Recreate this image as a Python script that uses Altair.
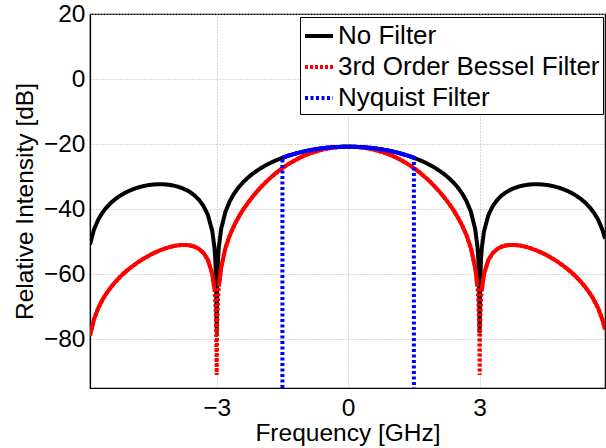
import altair as alt
import pandas as pd
import numpy as np

# ---- data ----
freq = [-5.89, -5.8, -5.7, -5.6, -5.5, -5.4, -5.3, -5.2, -5.1, -5.0,
        -4.9, -4.8, -4.7, -4.6, -4.5, -4.4, -4.3, -4.2, -4.1, -4.0,
        -3.9, -3.8, -3.7, -3.6, -3.5, -3.4, -3.3, -3.2, -3.1, -3.05,
        -3.03, -3.01, -3.0, -2.99, -2.97, -2.95, -2.9, -2.8, -2.7, -2.6,
        -2.5, -2.4, -2.3, -2.2, -2.1, -2.0, -1.9, -1.8, -1.7, -1.6,
        -1.5, -1.4, -1.3, -1.2, -1.1, -1.0, -0.9, -0.8, -0.7, -0.6,
        -0.5, -0.4, -0.3, -0.2, -0.1, 0.0, 0.1, 0.2, 0.3, 0.4,
        0.5, 0.6, 0.7, 0.8, 0.9, 1.0, 1.1, 1.2, 1.3, 1.4,
        1.5, 1.6, 1.7, 1.8, 1.9, 2.0, 2.1, 2.2, 2.3, 2.4,
        2.5, 2.6, 2.7, 2.8, 2.9, 2.95, 2.97, 2.99, 3.0, 3.01,
        3.03, 3.05, 3.1, 3.2, 3.3, 3.4, 3.5, 3.6, 3.7, 3.8,
        3.9, 4.0, 4.1, 4.2, 4.3, 4.4, 4.5, 4.6, 4.7, 4.8,
        4.9, 5.0, 5.1, 5.2, 5.3, 5.4, 5.5, 5.6, 5.7, 5.8, 5.86]

no_filter_db = [-50.89, -46.30, -43.17, -40.96, -39.27, -37.91, -36.79, -35.85, -35.06, -34.40,
                -33.84, -33.38, -33.01, -32.72, -32.51, -32.39, -32.34, -32.37, -32.49, -32.71,
                -33.03, -33.48, -34.07, -34.84, -35.85, -37.19, -39.04, -41.81, -46.76, -51.87,
                -55.70, -63.90, -78.00, -63.90, -55.50, -51.62, -46.26, -40.80, -37.53, -35.17,
                -33.31, -31.78, -30.48, -29.35, -28.36, -27.47, -26.68, -25.97, -25.32, -24.74,
                -24.21, -23.73, -23.30, -22.91, -22.55, -22.24, -21.95, -21.71, -21.49, -21.30,
                -21.15, -21.02, -20.92, -20.86, -20.81, -20.80, -20.81, -20.86, -20.92, -21.02,
                -21.15, -21.30, -21.49, -21.71, -21.95, -22.24, -22.55, -22.91, -23.30, -23.73,
                -24.21, -24.74, -25.32, -25.97, -26.68, -27.47, -28.36, -29.35, -30.48, -31.78,
                -33.31, -35.17, -37.53, -40.80, -46.26, -51.62, -55.50, -63.90, -78.00, -63.90,
                -55.70, -51.87, -46.76, -41.81, -39.04, -37.19, -35.85, -34.84, -34.07, -33.48,
                -33.03, -32.71, -32.49, -32.37, -32.34, -32.39, -32.51, -32.72, -33.01, -33.38,
                -33.84, -34.40, -35.06, -35.85, -36.79, -37.91, -39.27, -40.96, -43.17, -46.30, -49.05]

bessel_db = [-78.89, -73.92, -70.36, -67.72, -65.58, -63.77, -62.19, -60.79, -59.52, -58.38,
             -57.33, -56.38, -55.50, -54.70, -53.96, -53.31, -52.72, -52.20, -51.76, -51.41,
             -51.15, -51.01, -51.00, -51.17, -51.56, -52.27, -53.49, -55.61, -59.91, -64.70,
             -68.40, -76.50, -91.00, -76.30, -67.80, -63.78, -58.09, -51.96, -48.01, -44.98,
             -42.45, -40.25, -38.29, -36.51, -34.88, -33.37, -31.98, -30.69, -29.49, -28.40,
             -27.39, -26.46, -25.63, -24.87, -24.17, -23.56, -23.01, -22.54, -22.12, -21.76,
             -21.47, -21.22, -21.03, -20.91, -20.82, -20.80, -20.82, -20.91, -21.03, -21.22,
             -21.47, -21.76, -22.12, -22.54, -23.01, -23.56, -24.17, -24.87, -25.63, -26.46,
             -27.39, -28.40, -29.49, -30.69, -31.98, -33.37, -34.88, -36.51, -38.29, -40.25,
             -42.45, -44.98, -48.01, -51.96, -58.09, -63.78, -67.80, -76.30, -91.00, -76.50,
             -68.40, -64.70, -59.91, -55.61, -53.49, -52.27, -51.56, -51.17, -51.00, -51.01,
             -51.15, -51.41, -51.76, -52.20, -52.72, -53.31, -53.96, -54.70, -55.50, -56.38,
             -57.33, -58.38, -59.52, -60.79, -62.19, -63.77, -65.58, -67.72, -70.36, -73.92, -76.93]

nyq_freq = [-1.5, -1.5, -1.4, -1.3, -1.2, -1.1, -1.0, -0.9, -0.8, -0.7, -0.6,
            -0.5, -0.4, -0.3, -0.2, -0.1, 0.0, 0.1, 0.2, 0.3, 0.4, 0.5,
            0.6, 0.7, 0.8, 0.9, 1.0, 1.1, 1.2, 1.3, 1.4, 1.5, 1.5]
nyq_db = [-95.0, -24.21, -23.73, -23.30, -22.91, -22.55, -22.24, -21.95, -21.71, -21.49, -21.30,
          -21.15, -21.02, -20.92, -20.86, -20.81, -20.80, -20.81, -20.86, -20.92, -21.02, -21.15,
          -21.30, -21.49, -21.71, -21.95, -22.24, -22.55, -22.91, -23.30, -23.73, -24.21, -95.0]

series_names = ["No Filter", "3rd Order Bessel Filter", "Nyquist Filter"]
series_colors = ["#000000", "#ff0000", "#0000ff"]
series_dashes = [[1, 0], [3, 2], [3, 2.5]]
x_ticks = [-3, 0, 3]
y_ticks = [20, 0, -20, -40, -60, -80]

# ---- tables ----
df_black = pd.DataFrame({"f": freq, "db": no_filter_db, "series": series_names[0]})
df_red = pd.DataFrame({"f": freq, "db": bessel_db, "series": series_names[1]})
df_blue = pd.DataFrame({"f": nyq_freq, "db": nyq_db, "series": series_names[2]})
for d in (df_black, df_red, df_blue):
    d["i"] = np.arange(len(d))

af = df_red["f"].abs()
df_red["seg"] = np.where(df_red["f"] < 0, np.where(df_red["f"] < -3, "L", "M"),
                         np.where(df_red["f"] > 3, "R", "M"))
red_solid = df_red[(af <= 2.951) | (af >= 3.049)]
blue_solid = df_blue.iloc[1:-1]

FONT = "Liberation Sans"

x = alt.X("f:Q", scale=alt.Scale(domain=[-5.89, 5.86], nice=False, zero=False),
          axis=alt.Axis(values=x_ticks, title="Frequency [GHz]"))
y = alt.Y("db:Q", scale=alt.Scale(domain=[-95, 20], nice=False, zero=False),
          axis=alt.Axis(values=y_ticks, title="Relative Intensity [dB]"))
order = alt.Order("i:Q")
legend = alt.Legend(title=None)
color = alt.Color("series:N", scale=alt.Scale(domain=series_names, range=series_colors), legend=legend)
dash = alt.StrokeDash("series:N", scale=alt.Scale(domain=series_names, range=series_dashes), legend=legend)

LW = 4
l_black = alt.Chart(df_black).mark_line(strokeWidth=LW, clip=True).encode(
    x=x, y=y, color=color, strokeDash=dash, order=order)
l_red = alt.Chart(df_red).mark_line(strokeWidth=LW, clip=True).encode(
    x=x, y=y, color=color, strokeDash=dash, order=order)
l_red_solid = alt.Chart(red_solid).mark_line(strokeWidth=LW, clip=True, color="#ff0000").encode(
    x=x, y=y, detail="seg:N", order=order)
l_blue = alt.Chart(df_blue).mark_line(strokeWidth=LW, clip=True).encode(
    x=x, y=y, color=color, strokeDash=dash, order=order)
l_blue_solid = alt.Chart(blue_solid).mark_line(strokeWidth=LW, clip=True, color="#0000ff").encode(
    x=x, y=y, order=order)

chart = alt.layer(l_black, l_red, l_red_solid, l_blue, l_blue_solid).properties(
    width=515, height=374,
    autosize=alt.AutoSizeParams(type="none"),
    padding={"left": 90, "top": 14, "right": 1, "bottom": 60},
    background="white",
).configure_view(
    stroke="black", strokeWidth=1.2
).configure_axis(
    domainColor="black", domainWidth=1.2,
    ticks=False,
    labelFont=FONT, labelFontSize=24.5, labelColor="black", labelPadding=5,
    titleFont=FONT, titleFontSize=24.5, titleFontWeight="normal", titleColor="black",
    gridColor="#b0b0b0", gridDash=[1, 2], gridWidth=1,
).configure_axisX(
    labelPadding=8, titlePadding=2,
).configure_axisY(
    titlePadding=6,
).configure_legend(
    orient="none", legendX=210, legendY=3,
    strokeColor="black", strokeWidth=1, fillColor="white", padding=3, cornerRadius=0,
    labelFont=FONT, labelFontSize=26, labelColor="black", labelLimit=0, labelOffset=3,
    symbolType="stroke", symbolSize=784, symbolStrokeWidth=4, rowPadding=2,
)

chart.save("out.html", embed_options={"renderer": "svg", "actions": False})
